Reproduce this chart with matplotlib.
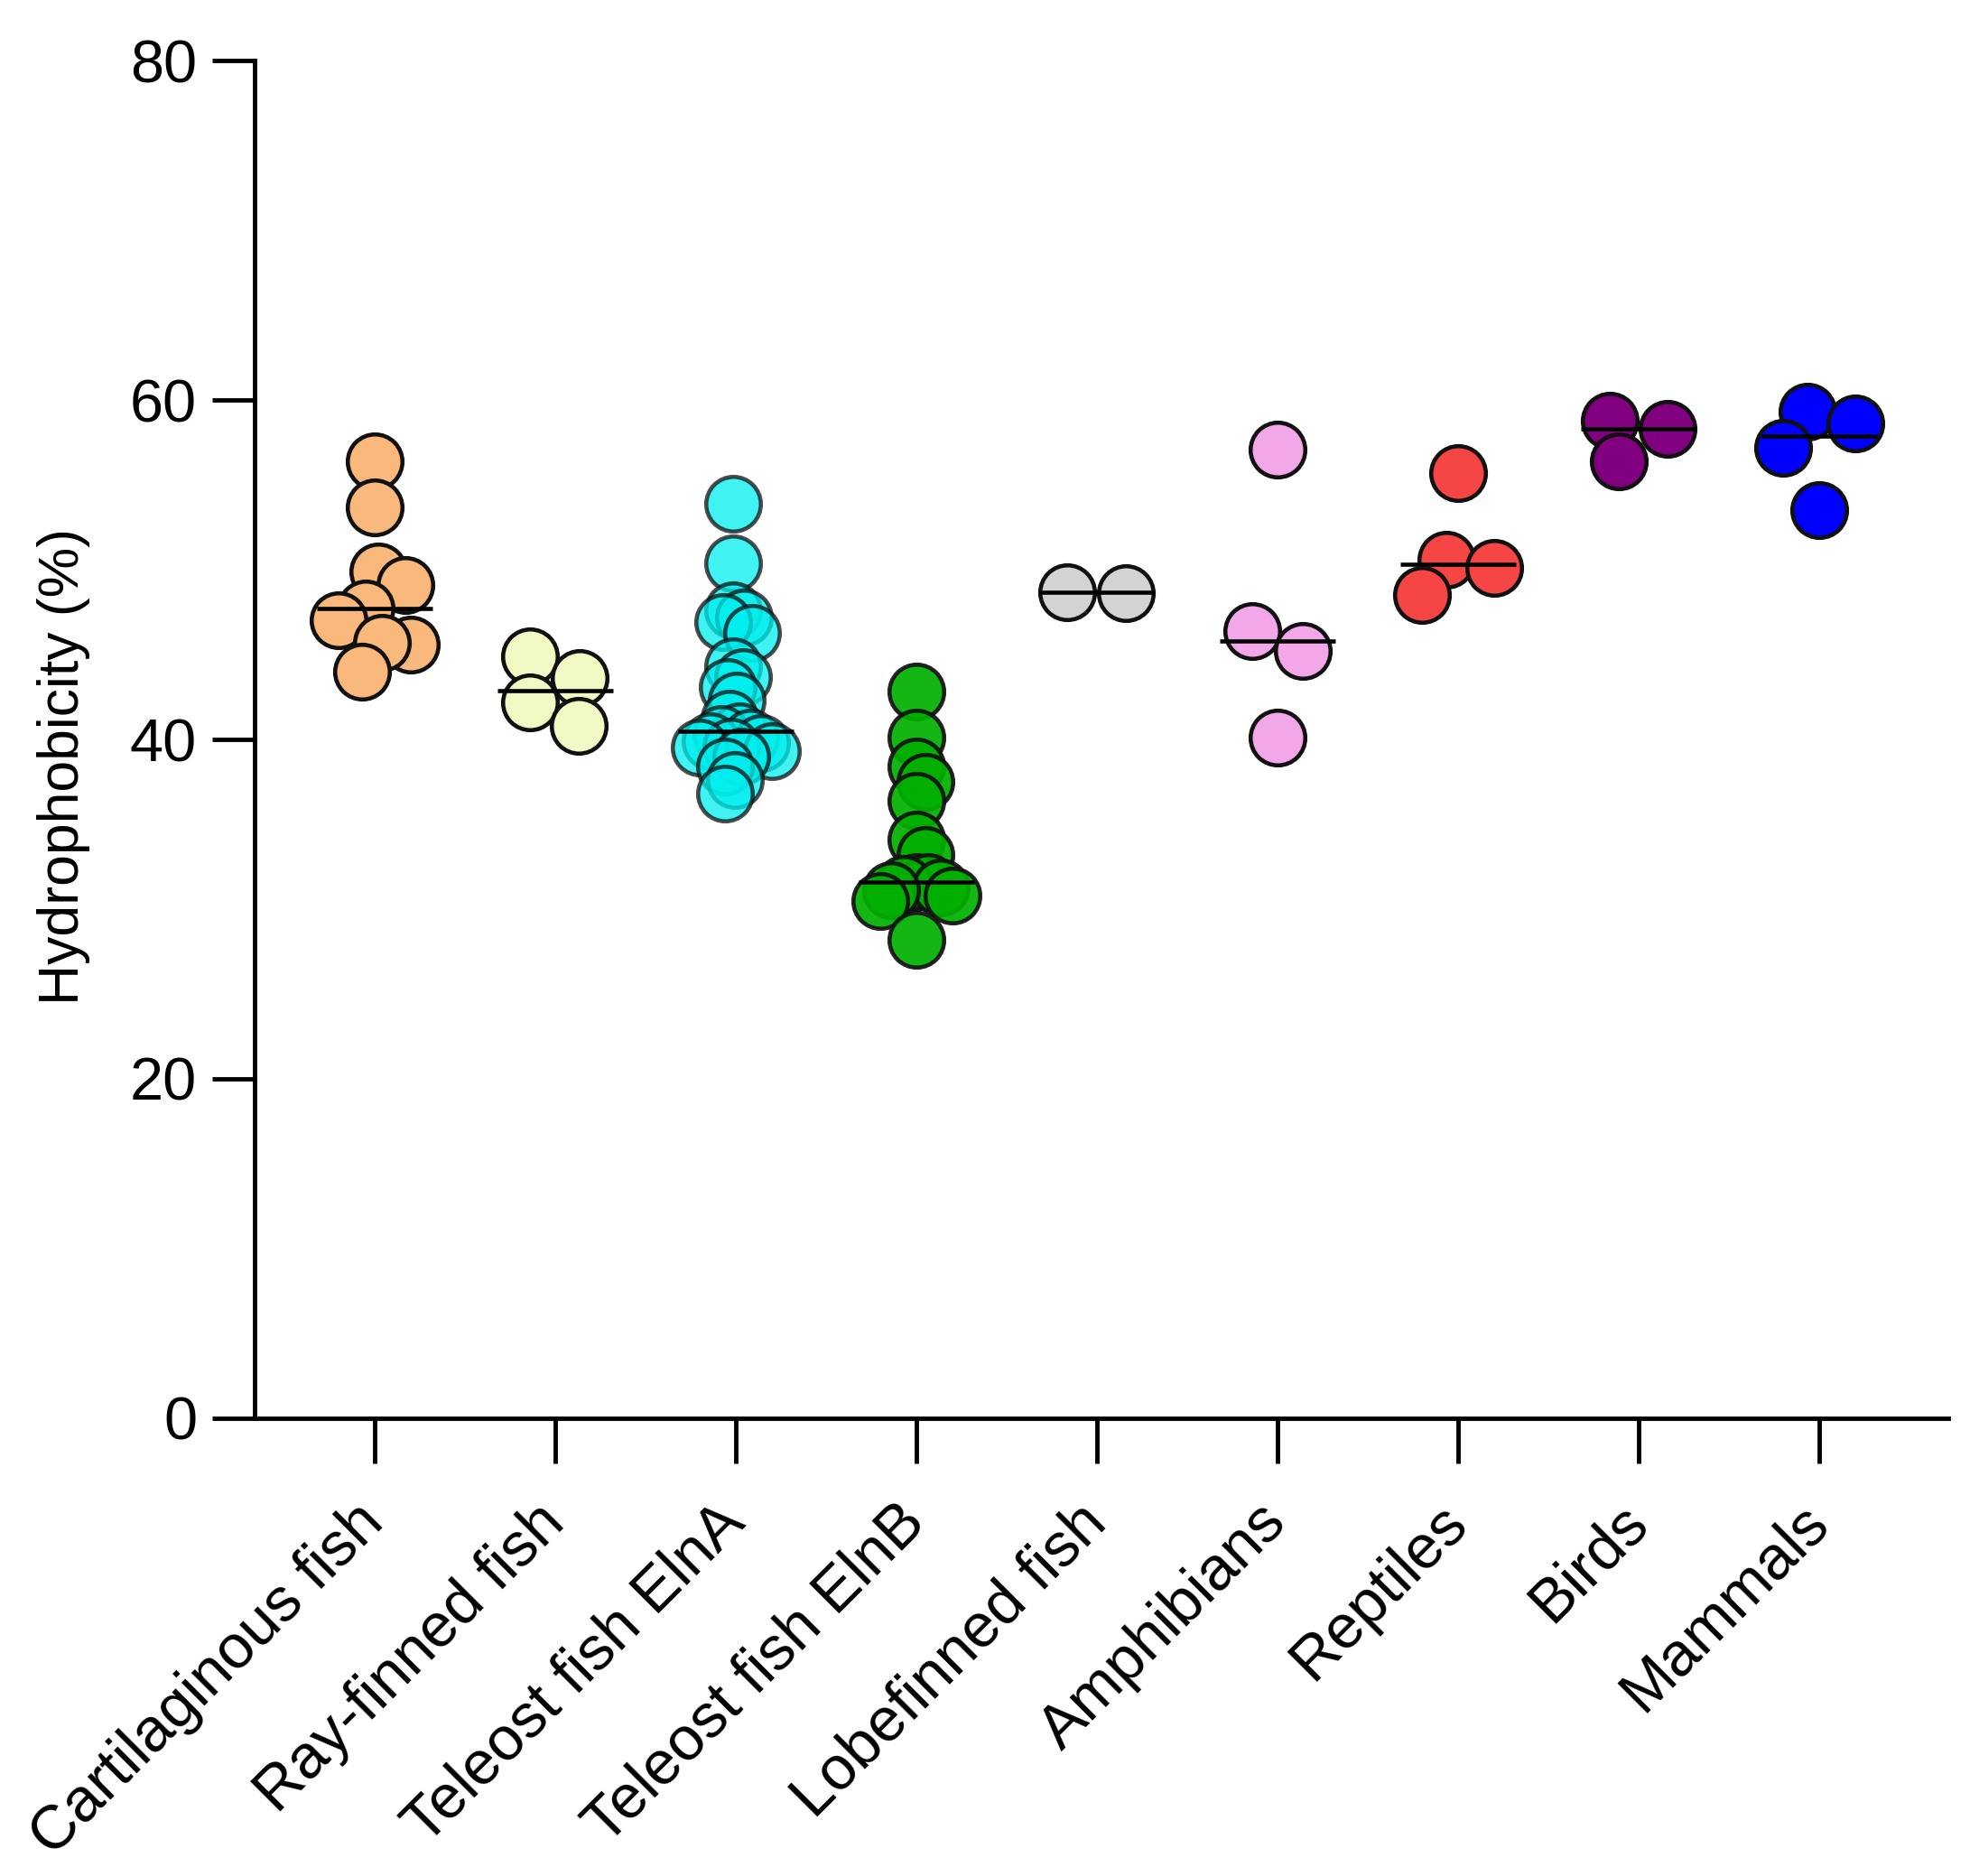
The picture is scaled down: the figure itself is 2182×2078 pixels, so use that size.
import numpy as np
import matplotlib
matplotlib.use("Agg")
import matplotlib.pyplot as plt

plt.rcParams['font.family'] = ['Liberation Sans', 'DejaVu Sans']

# Values
categories = ["Cartilaginous fish", "Ray-finned fish", "Teleost fish ElnA",
              "Teleost fish ElnB", "Lobefinned fish", "Amphibians",
              "Reptiles", "Birds", "Mammals"]
cartilaginous = [56.4, 53.7, 49.9, 49.1, 47.7, 47.0, 45.6, 45.7, 44.0]
ray_finned = [44.9, 43.6, 42.2, 40.8]
teleost_a = [53.9, 50.4, 47.6, 47.2, 46.9, 46.3, 44.3, 43.7, 43.1, 42.3, 41.2,
             40.5, 40.3, 40.1, 39.9, 39.8, 39.6, 39.5, 39.3, 39.0, 38.4, 37.6,
             36.8]
teleost_b = [42.8, 40.1, 38.4, 37.5, 36.4, 34.1, 33.2, 31.6, 31.6, 31.5, 31.3,
             31.1, 30.8, 30.5, 28.2]
lobefinned = [48.7, 48.6]
amphibians = [57.1, 46.4, 45.2, 40.1]
reptiles = [55.7, 50.6, 50.1, 48.5]
birds = [58.8, 58.3, 56.4]
mammals = [59.3, 58.6, 57.2, 53.5]
groups = [cartilaginous, ray_finned, teleost_a, teleost_b, lobefinned,
          amphibians, reptiles, birds, mammals]

colors = ['#F9B87C', '#F2F8C4', '#00EEEE', '#00B000', '#D3D3D3',
          '#F2A7E8', '#F54545', '#800080', '#0000FF']
alphas = [1, 1, 0.75, 0.92, 1, 1, 1, 1, 1]

MS = 43.6      # marker size (pt)
MEW = 3.3      # marker edge width (pt)
DPI = 100


def swarm_offsets(vals, xscale, yscale, dx0, dy0, wmax):
    """Beeswarm-like x offsets (pixels), squeezed to +/- wmax per cluster.
    Points need an elliptical gap: dx0 side by side, dy0 stacked."""
    vals = np.asarray(vals, dtype=float)
    n = len(vals)
    ys = vals * yscale
    xs = np.zeros(n)

    def gap(xa, ya, xb, yb):
        return np.hypot((xa - xb) / dx0, (ya - yb) / dy0)

    placed = []
    for i in np.argsort(-vals, kind='stable'):
        cands = [0.0]
        for j in placed:
            dy = abs(ys[i] - ys[j])
            if dy < dy0:
                dx = dx0 * np.sqrt(1 - (dy / dy0) ** 2)
                cands += [xs[j] + dx, xs[j] - dx]
        cands = sorted(cands, key=lambda c: (round(abs(c), 6), -c))
        for c in cands:
            if all(gap(c, ys[i], xs[j], ys[j]) >= 1 - 1e-6 for j in placed):
                xs[i] = c
                break
        placed.append(i)
    # group overlapping circles into clusters
    label = -np.ones(n, dtype=int)
    k = 0
    for i in range(n):
        if label[i] >= 0:
            continue
        stack = [i]
        label[i] = k
        while stack:
            a = stack.pop()
            for b in range(n):
                if label[b] < 0 and np.hypot(xs[a] - xs[b], ys[a] - ys[b]) < 1.05 * dx0:
                    label[b] = k
                    stack.append(b)
        k += 1
    for c in range(k):
        m = label == c
        mid = (xs[m].max() + xs[m].min()) / 2
        xs[m] -= mid
        half = np.abs(xs[m]).max()
        if half > wmax:
            xs[m] *= wmax / half
    return xs


fig = plt.figure(figsize=(21.82, 20.78), dpi=DPI)
ax = fig.add_axes([0.1292, 0.2441, 0.8598, 0.7235])
ax.set_xlim(-0.665, 8.715)
ax.set_ylim(0, 80)

p0 = ax.transData.transform((0, 0))
p1 = ax.transData.transform((1, 1))
xscale = p1[0] - p0[0]
yscale = p1[1] - p0[1]
diam = (MS + MEW) * DPI / 72.0

for i, vals in enumerate(groups):
    # crowded groups get packed tighter vertically before squeezing
    stack_gap = 0.7 if len(vals) <= 10 else 0.4
    offs = swarm_offsets(vals, xscale, yscale, diam, stack_gap * diam,
                         0.2 * xscale) / xscale
    ax.plot(i + offs, vals, ls='none', marker='o', ms=MS, mew=MEW,
            mfc=colors[i], mec='#111111', alpha=alphas[i], zorder=3)
    med = np.median(vals)
    ax.plot([i - 0.32, i + 0.32], [med, med], color='black', lw=3.3,
            solid_capstyle='butt', zorder=4)

for s in ['top', 'right']:
    ax.spines[s].set_visible(False)
for s in ['left', 'bottom']:
    ax.spines[s].set_linewidth(3.5)

ax.set_yticks([0, 20, 40, 60, 80])
ax.tick_params(axis='y', direction='out', length=34, width=3.5, pad=12,
               labelsize=48)
ax.set_xticks(range(len(categories)))
ax.set_xticklabels(categories, rotation=45, ha='right', va='center',
                   rotation_mode='anchor', fontsize=49)
ax.tick_params(axis='x', direction='out', length=36, width=3.5, pad=40)

ax.set_ylabel('Hydrophobicity (%)', fontsize=45)
ax.yaxis.set_label_coords(-0.097, 0.48)

fig.savefig('out.png', dpi=DPI, facecolor='white')
